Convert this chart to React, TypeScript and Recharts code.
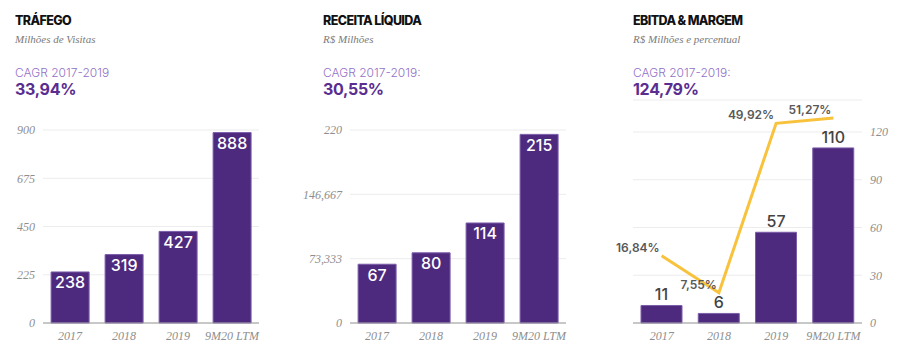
import React from 'react';
import {
  BarChart,
  Bar,
  ComposedChart,
  Line,
  XAxis,
  YAxis,
  CartesianGrid,
  LabelList,
} from 'recharts';

const categories = ['2017', '2018', '2019', '9M20 LTM'];
const trafego = [238, 319, 427, 888];
const receita = [67, 80, 114, 215];
const ebitda = [11, 6, 57, 110];
const margem = [16.84, 7.55, 49.92, 51.27];

const trafegoTicks = [0, 225, 450, 675, 900];
const receitaTicks = [0, 73.333, 146.667, 220];
const receitaTickLabels = ['0', '73,333', '146,667', '220'];
const ebitdaTicks = [0, 30, 60, 90, 120];

const headers = [
  { x: 15, title: 'TRÁFEGO', subtitle: 'Milhões de Visitas', cagrLabel: 'CAGR 2017-2019', cagr: '33,94%' },
  { x: 323, title: 'RECEITA LÍQUIDA', subtitle: 'R$ Milhões', cagrLabel: 'CAGR 2017-2019:', cagr: '30,55%' },
  { x: 633, title: 'EBITDA & MARGEM', subtitle: 'R$ Milhões e percentual', cagrLabel: 'CAGR 2017-2019:', cagr: '124,79%' },
];

const trafegoData = categories.map((c, i) => ({ name: c, value: trafego[i] }));
const receitaData = categories.map((c, i) => ({ name: c, value: receita[i] }));
const ebitdaData = categories.map((c, i) => ({ name: c, value: ebitda[i], margem: margem[i] }));

const BAR_FILL = '#4E2A7E';
const BAR_STROKE = '#7C5DAA';
const GRID = '#ECECEC';
const AXIS = '#9A9A9A';
const TICK_FONT = '"Liberation Serif", "DejaVu Serif", serif';
const SANS = 'Inter, "Noto Sans", sans-serif';

const tickStyle = {
  fill: '#8E8E8E',
  fontSize: 12,
  fontStyle: 'italic' as const,
  fontFamily: TICK_FONT,
};

const fmtPct = (v: number) => v.toFixed(2).replace('.', ',') + '%';

const MarginLabel = (props: any) => {
  const { x, y, value } = props;
  return (
    <text
      x={x - 2}
      y={y - 4}
      textAnchor="end"
      fill="#585858"
      fontSize={12}
      fontWeight={600}
      fontFamily={SANS}
    >
      {fmtPct(Number(value))}
    </text>
  );
};

export default function App() {
  return (
    <div
      style={{
        position: 'absolute',
        left: 0,
        top: 0,
        width: 900,
        height: 360,
        background: '#fff',
        overflow: 'hidden',
      }}
    >
      <svg width={900} height={110} style={{ position: 'absolute', left: 0, top: 0 }}>
        {headers.map((h) => (
          <g key={h.title}>
            <text x={h.x} y={25} fontFamily={SANS} fontWeight={800} fontSize={12.5} letterSpacing={-0.6} fill="#111">
              {h.title}
            </text>
            <text x={h.x} y={43} fontFamily={TICK_FONT} fontStyle="italic" fontSize={11} fill="#7A7A7A">
              {h.subtitle}
            </text>
            <text x={h.x} y={77} fontFamily={SANS} fontWeight={300} fontSize={12} fill="#9270C6">
              {h.cagrLabel}
            </text>
            <text x={h.x} y={95} fontFamily={SANS} fontWeight={700} fontSize={16} letterSpacing={-0.3} fill="#5A2D91">
              {h.cagr}
            </text>
          </g>
        ))}
      </svg>

      <div style={{ position: 'absolute', left: 0, top: 110 }}>
        <BarChart
          width={300}
          height={250}
          data={trafegoData}
          margin={{ top: 20, right: 41, bottom: 7, left: 0 }}
          barCategoryGap="15%"
        >
          <CartesianGrid vertical={false} stroke={GRID} />
          <XAxis
            dataKey="name"
            height={30}
            tickLine={false}
            axisLine={{ stroke: AXIS }}
            tick={tickStyle}
            interval={0}
          />
          <YAxis
            width={43}
            domain={[0, 900]}
            ticks={trafegoTicks}
            tickLine={false}
            axisLine={false}
            tick={tickStyle}
          />
          <Bar dataKey="value" fill={BAR_FILL} stroke={BAR_STROKE} strokeWidth={1} isAnimationActive={false}>
            <LabelList
              dataKey="value"
              position="insideTop"
              offset={5}
              fill="#fff"
              fontSize={16}
              fontWeight={500}
              fontFamily={SANS}
            />
          </Bar>
        </BarChart>
      </div>

      <div style={{ position: 'absolute', left: 300, top: 110 }}>
        <BarChart
          width={300}
          height={250}
          data={receitaData}
          margin={{ top: 20, right: 34, bottom: 7, left: 0 }}
          barCategoryGap="15%"
        >
          <CartesianGrid vertical={false} stroke={GRID} />
          <XAxis
            dataKey="name"
            height={30}
            tickLine={false}
            axisLine={{ stroke: AXIS }}
            tick={tickStyle}
            interval={0}
          />
          <YAxis
            width={50}
            domain={[0, 220]}
            ticks={receitaTicks}
            tickFormatter={(v: number) => receitaTickLabels[receitaTicks.indexOf(v)] ?? String(v)}
            tickLine={false}
            axisLine={false}
            tick={tickStyle}
          />
          <Bar dataKey="value" fill={BAR_FILL} stroke={BAR_STROKE} strokeWidth={1} isAnimationActive={false}>
            <LabelList
              dataKey="value"
              position="insideTop"
              offset={5}
              fill="#fff"
              fontSize={16}
              fontWeight={500}
              fontFamily={SANS}
            />
          </Bar>
        </BarChart>
      </div>

      <div style={{ position: 'absolute', left: 600, top: 90 }}>
        <ComposedChart
          width={300}
          height={270}
          data={ebitdaData}
          margin={{ top: 10, right: 0, bottom: 7, left: 33 }}
          barCategoryGap="14%"
        >
          <CartesianGrid vertical={false} stroke={GRID} yAxisId="right" />
          <XAxis
            dataKey="name"
            height={30}
            tickLine={false}
            axisLine={{ stroke: AXIS }}
            tick={tickStyle}
            interval={0}
          />
          <YAxis yAxisId="left" hide domain={[0, 55.75]} />
          <YAxis
            yAxisId="right"
            orientation="right"
            width={38}
            domain={[0, 140.1]}
            ticks={ebitdaTicks}
            tickLine={false}
            axisLine={false}
            tick={{ ...tickStyle, textAnchor: 'start' }}
          />
          <Bar
            yAxisId="right"
            dataKey="value"
            fill={BAR_FILL}
            stroke={BAR_STROKE}
            strokeWidth={1}
            isAnimationActive={false}
          >
            <LabelList
              dataKey="value"
              position="top"
              offset={5}
              fill="#444"
              fontSize={16}
              fontWeight={500}
              fontFamily={SANS}
            />
          </Bar>
          <Line
            yAxisId="left"
            dataKey="margem"
            type="linear"
            stroke="#F8C23C"
            strokeWidth={3}
            dot={false}
            activeDot={false}
            isAnimationActive={false}
          >
            <LabelList dataKey="margem" content={MarginLabel} />
          </Line>
        </ComposedChart>
      </div>
    </div>
  );
}
